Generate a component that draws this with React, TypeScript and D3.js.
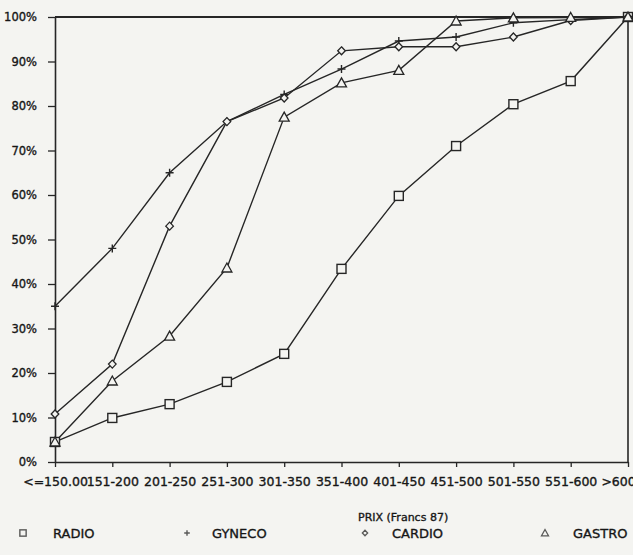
import React, { useRef, useEffect } from 'react';
import * as d3 from 'd3';

const categories = ['<=150.00', '151-200', '201-250', '251-300', '301-350', '351-400', '401-450', '451-500', '501-550', '551-600', '>600.00'];
const yTicks = [0, 10, 20, 30, 40, 50, 60, 70, 80, 90, 100];

const radio = [4.5, 9.9, 13, 18, 24.3, 43.4, 59.8, 71, 80.4, 85.6, 100];
const gyneco = [35, 48, 65, 76.5, 82.6, 88.3, 94.6, 95.5, 98.7, 99.4, 100];
const cardio = [10.8, 22, 53, 76.5, 81.8, 92.4, 93.3, 93.3, 95.5, 99.2, 100];
const gastro = [4.5, 18.2, 28.3, 43.6, 77.5, 85.2, 88, 99.1, 99.8, 99.9, 100];

const seriesNames = ['RADIO', 'GYNECO', 'CARDIO', 'GASTRO'];
const seriesValues = [radio, gyneco, cardio, gastro];

const W = 633;
const H = 555;
const INK = '#262626';
const PAPER = '#f4f4f1';
const FONT = '"DejaVu Sans", sans-serif';

export default function App() {
    const svgRef = useRef<SVGSVGElement>(null);

    useEffect(() => {
        if (!svgRef.current) return;
        const svg = d3.select(svgRef.current);
        svg.selectAll('*').remove();

        const left = 55, right = 628, top = 17, bottom = 462;

        const x = d3.scalePoint<string>().domain(categories).range([left, right]);
        const y = d3.scaleLinear().domain([0, 100]).range([bottom, top]);

        // paper
        svg.append('rect').attr('width', W).attr('height', H).attr('fill', PAPER);

        // frame top / right
        svg.append('line').attr('x1', left).attr('x2', right).attr('y1', top).attr('y2', top)
            .attr('stroke', INK).attr('stroke-width', 2);
        svg.append('line').attr('x1', right).attr('x2', right).attr('y1', top).attr('y2', bottom)
            .attr('stroke', INK).attr('stroke-width', 1.6);

        // y axis
        const yAxis = svg.append('g')
            .attr('transform', `translate(${left},0)`)
            .call(d3.axisLeft(y).tickValues(yTicks).tickSize(7).tickSizeOuter(0).tickPadding(11)
                .tickFormat(d => `${d}%`));
        yAxis.selectAll('.domain').attr('stroke', INK).attr('stroke-width', 1.6);
        yAxis.selectAll('.tick line').attr('stroke', INK).attr('stroke-width', 1.3);
        yAxis.selectAll('text').attr('fill', '#161616').attr('stroke', '#161616').attr('stroke-width', 0.35)
            .attr('font-family', FONT).attr('font-size', '11.5px');

        // x axis
        const xAxis = svg.append('g')
            .attr('transform', `translate(0,${bottom})`)
            .call(d3.axisBottom(x).tickSize(5).tickSizeOuter(0).tickPadding(10));
        xAxis.selectAll('.domain').attr('stroke', INK).attr('stroke-width', 1.6);
        xAxis.selectAll('.tick line').attr('stroke', INK).attr('stroke-width', 1.3);
        xAxis.selectAll('text').attr('fill', '#161616').attr('stroke', '#161616').attr('stroke-width', 0.35)
            .attr('font-family', FONT).attr('font-size', '12.5px');

        // markers
        const drawMarker = (g: any, kind: number, cx: number, cy: number, s = 1, fill = PAPER) => {
            if (kind === 0) {
                g.append('rect').attr('x', cx - 4.5 * s).attr('y', cy - 4.5 * s).attr('width', 9 * s).attr('height', 9 * s)
                    .attr('fill', fill).attr('stroke', INK).attr('stroke-width', 1.4);
            } else if (kind === 1) {
                g.append('path').attr('d', `M${cx - 4 * s},${cy}H${cx + 4 * s}M${cx},${cy - 4 * s}V${cy + 4 * s}`)
                    .attr('stroke', INK).attr('stroke-width', 1.4).attr('fill', 'none');
            } else if (kind === 2) {
                g.append('path').attr('d', `M${cx},${cy - 4 * s}L${cx + 3.8 * s},${cy}L${cx},${cy + 4 * s}L${cx - 3.8 * s},${cy}Z`)
                    .attr('fill', fill).attr('stroke', INK).attr('stroke-width', 1.3);
            } else {
                g.append('path').attr('d', `M${cx},${cy - 5 * s}L${cx + 5 * s},${cy + 4 * s}L${cx - 5 * s},${cy + 4 * s}Z`)
                    .attr('fill', fill).attr('stroke', INK).attr('stroke-width', 1.3);
            }
        };

        const line = d3.line<number>()
            .x((_, i) => x(categories[i]) as number)
            .y(d => y(d));

        const plot = svg.append('g');
        seriesValues.forEach(vals => {
            plot.append('path')
                .attr('d', line(vals))
                .attr('fill', 'none')
                .attr('stroke', INK)
                .attr('stroke-width', 1.4);
        });
        seriesValues.forEach((vals, k) => {
            const g = plot.append('g');
            vals.forEach((v, i) => drawMarker(g, k, x(categories[i]) as number, y(v)));
        });

        // legend
        const legend = svg.append('g').attr('font-family', FONT).attr('fill', '#161616')
            .attr('stroke', '#161616').attr('stroke-width', 0.35);
        legend.append('text').attr('x', 358).attr('y', 521).attr('font-size', '11px').text('PRIX (Francs 87)');
        const legendItems = [
            { sx: 23, tx: 53 },
            { sx: 187, tx: 212 },
            { sx: 365, tx: 392 },
            { sx: 545, tx: 573 },
        ];
        const symbols = svg.append('g').attr('opacity', 0.75);
        legendItems.forEach((it, k) => {
            drawMarker(symbols, k, it.sx, 533, 0.7);
            legend.append('text').attr('x', it.tx).attr('y', 538).attr('font-size', '13px').text(seriesNames[k]);
        });
    }, []);

    return (
        <svg ref={svgRef} width={W} height={H} style={{ position: 'absolute', left: 0, top: 0 }} />
    );
}
